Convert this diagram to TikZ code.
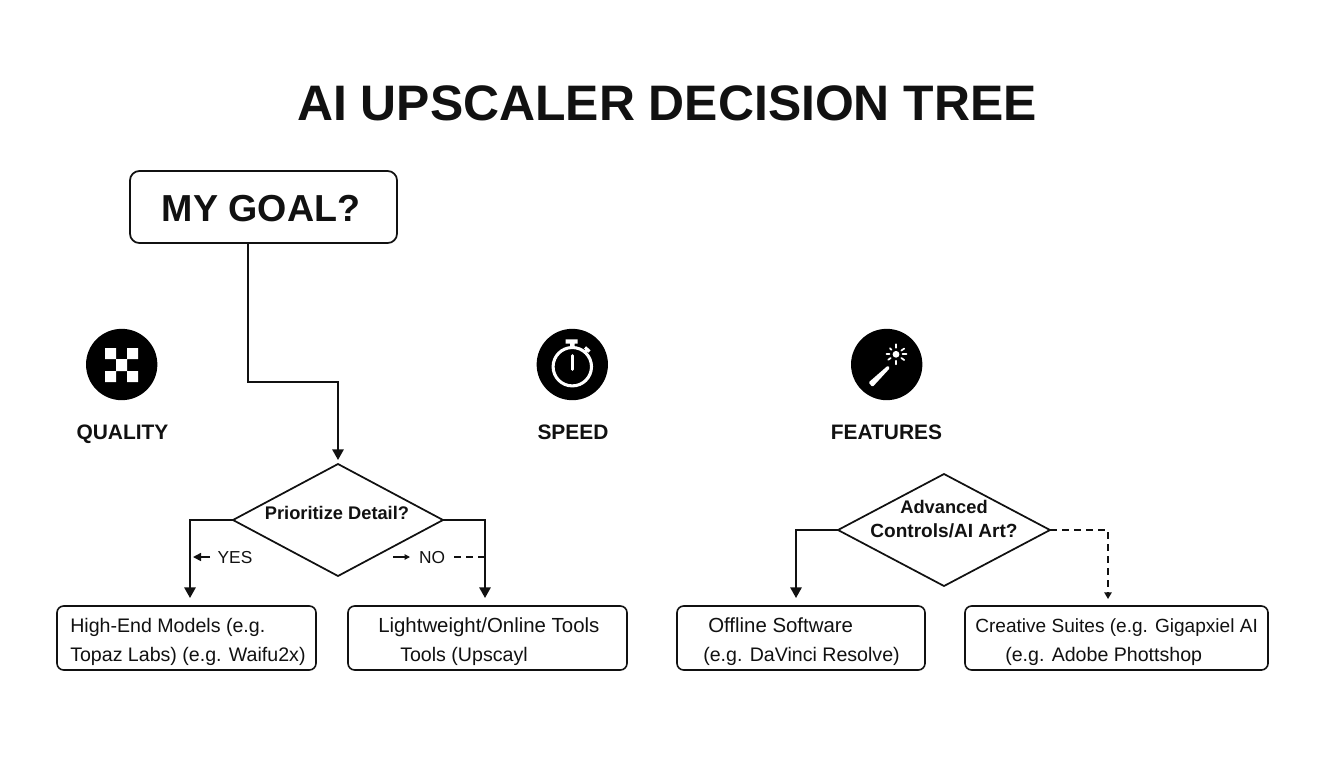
\documentclass[tikz,border=0pt]{standalone}
\usepackage{fontspec}
\setmainfont{Liberation Sans}
\usetikzlibrary{shapes.geometric,arrows.meta}
\newcommand{\fsz}[1]{\fontsize{#1}{#1}\selectfont}
\definecolor{ink}{HTML}{111111}
\tikzset{
  conn/.style={draw=ink,line width=1.5pt,-{Triangle[length=8pt,width=8.5pt]}},
  dashconn/.style={draw=ink,line width=1.1pt,dash pattern=on 5pt off 4pt,-{Triangle[length=5pt,width=5.5pt]}},
  roundbox/.style={draw=ink,line width=1.2pt,rounded corners=5pt,inner sep=0pt,outer sep=0pt},
  decision/.style={diamond,draw=ink,line width=1.3pt,inner sep=0pt,outer sep=0pt},
  boxtext/.style={anchor=base west,inner sep=0pt,text=ink,font=\fsz{14.7}},
  catlabel/.style={anchor=base,inner sep=0pt,text=ink,font=\bfseries\fsz{15.7}},
  difftext/.style={anchor=base,inner sep=0pt,text=ink,font=\bfseries\fsz{13.7}},
  yesno/.style={anchor=base,inner sep=0pt,text=ink,font=\fsz{13}},
  badge/.style={circle,fill=black,inner sep=0pt,outer sep=0pt,minimum size=53.5pt},
  iconline/.style={draw=white,line cap=round}
}
\begin{document}
\begin{tikzpicture}[x=0.75pt,y=-0.75pt]
\useasboundingbox (0,0) rectangle (1344,768);
\fill[white] (0,0) rectangle (1344,768);

\node[anchor=base,inner sep=0pt,text=ink,font=\bfseries\fsz{37.4}] (title) at (667,120) {AI UPSCALER DECISION TREE};

% goal
\node[roundbox,minimum width=200.25pt,minimum height=54pt,rounded corners=7pt,line width=1.3pt] (goal) at (263.5,207) {};
\node[anchor=base,inner sep=0pt,text=ink,font=\bfseries\fsz{28.2}] (goaltext) at (261,221) {MY GOAL?};

% badges
\node[badge] (q) at (121.7,364.5) {};
\node[badge] (s) at (572.3,364.5) {};
\node[badge] (f) at (886.7,364.5) {};
\fill[white] (105,348) rectangle (116,359) (127,348) rectangle (138,359)
             (116,359) rectangle (127,371)
             (105,371) rectangle (116,382) (127,371) rectangle (138,382);
% stopwatch
\draw[iconline,line width=2.3pt] (572.3,366.7) circle[radius=19.2];
\fill[white] (565.7,339.3) rectangle (577.7,343.5) (570,343.5) rectangle (574.6,348);
\draw[iconline,line width=2.2pt] (572.3,355.5) -- (572.3,369.5);
\draw[iconline,line width=2pt,line cap=butt] (584.5,352.5) -- (587.5,349.5);
\draw[iconline,line width=2.4pt,line cap=butt] (585,347.5) -- (589.5,351.5);
% wand
\fill[white,rounded corners=1pt] (868.5,382.5) -- (872.5,387) -- (890,368) -- (888,365.5) -- cycle;
\fill[white] (896,354.3) circle[radius=3.4];
\foreach \a/\r in {0/10.5,35/10,90/10,145/9.5,180/9.5,225/8.5,270/10,325/10}{
  \draw[iconline,line width=1.3pt] (896,354.3) ++(\a:6.5) -- ++(\a:\r-6.5);
}

% category labels
\node[catlabel] (ql) at (122.5,439) {QUALITY};
\node[catlabel] (sl) at (573,439) {SPEED};
\node[catlabel] (fl) at (886.5,439) {FEATURES};

% decisions
\node[decision,minimum width=157.5pt,minimum height=84pt] (d1) at (338,520) {};
\node[difftext] (d1t) at (337,519) {Prioritize Detail?};
\node[decision,minimum width=159pt,minimum height=84pt] (d2) at (944,530) {};
\node[difftext] (d2a) at (944,513) {Advanced};
\node[difftext,font=\bfseries\fsz{14.3}] (d2b) at (944,537) {Controls/AI Art?};

% result boxes
\node[roundbox,minimum width=194.25pt,minimum height=48pt] (b1) at (186.5,638) {};
\node[roundbox,minimum width=209.25pt,minimum height=48pt] (b2) at (487.5,638) {};
\node[roundbox,minimum width=186pt,minimum height=48pt] (b3) at (801,638) {};
\node[roundbox,minimum width=227.25pt,minimum height=48pt] (b4) at (1116.5,638) {};

\node[boxtext] (b1a) at (70,632) {High-End Models (e.g.};
\node[boxtext] (b1b) at (70,661) {Topaz Labs) (e.g. Waifu2x)};
\node[boxtext,font=\fsz{15.3}] (b2a) at (378,632) {Lightweight/Online Tools};
\node[boxtext] (b2b) at (400,661) {Tools (Upscayl};
\node[boxtext,font=\fsz{15.3}] (b3a) at (708,632) {Offline Software};
\node[boxtext] (b3b) at (703,661) {(e.g. DaVinci Resolve)};
\node[boxtext,font=\fsz{14.3}] (b4a) at (975,632) {Creative Suites (e.g. Gigapxiel AI};
\node[boxtext] (b4b) at (1005,661) {(e.g. Adobe Phottshop};

% connectors
\coordinate (gs) at (248,243);
\coordinate (gm) at (248,382);
\coordinate (gn) at (338,382);
\coordinate (d1in) at (338,460);
\draw[conn] (gs) -- (gm) -- (gn) -- (d1in);
\coordinate (b1in) at (190,598);
\coordinate (b2in) at (485,598);
\coordinate (b3in) at (796,598);
\coordinate (b4in) at (1108,599);
\draw[conn] (d1.west) -| (b1in);
\draw[conn] (d1.east) -| (b2in);
\draw[conn] (d2.west) -| (b3in);
\draw[dashconn] (d2.east) -| (b4in);

% yes / no
\node[yesno] (yes) at (235,563) {YES};
\node[yesno] (no) at (432,563) {NO};
\coordinate (yesend) at (193,557);
\coordinate (noarrow) at (410,557);
\coordinate (noarrowstart) at (393,557);
\coordinate (nodash) at (485,557);
\draw[draw=ink,line width=1.2pt,-{Triangle[length=6pt,width=6pt]}] (210,557) -- (yesend);
\draw[draw=ink,line width=0.8pt,-{Triangle[length=4pt,width=4pt]}] (noarrowstart) -- (noarrow);
\draw[draw=ink,line width=0.9pt,dash pattern=on 5pt off 4pt] (454,557) -- (nodash);
\end{tikzpicture}
\end{document}
